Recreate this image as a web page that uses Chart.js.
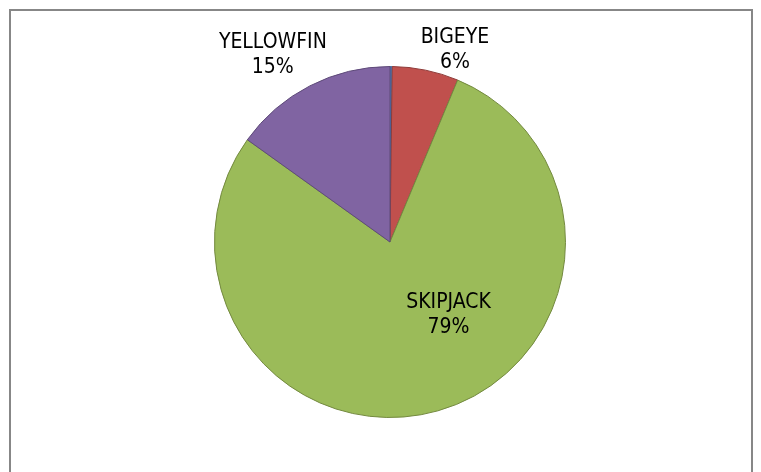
<!DOCTYPE html>
<html>
<head>
<meta charset="utf-8">
<script src="https://cdn.jsdelivr.net/npm/chart.js@4/dist/chart.umd.min.js"></script>
<style>
  html, body { margin: 0; padding: 0; background: #fff; }
  #wrap { position: relative; width: 761px; height: 472px; }
</style>
</head>
<body>
<div id="wrap"><canvas id="c" width="761" height="472"></canvas></div>
<script>
// catch share by species (first one is a hairline slice with no label)
const species = ['ALBACORE', 'BIGEYE', 'SKIPJACK', 'YELLOWFIN'];
const share = [0.2, 6.1, 78.6, 15.1];
const showLabel = [false, true, true, true];

const fills = ['#4F81BD', '#C0504D', '#9BBB59', '#8064A2'];
const edges = ['#2F6FA8', '#8E3B39', '#73893F', '#5E4A79'];

// where each label sits: angle from 12 o'clock (deg, clockwise), distance as fraction of radius
const labelPolar = [null, [18.6, 1.16], [141, 0.53], [-32, 1.26]];

const total = share.reduce((a, b) => a + b, 0);

const frame = {
  id: 'frame',
  beforeDraw(chart) {
    const ctx = chart.ctx;
    ctx.save();
    ctx.strokeStyle = '#878787';
    ctx.lineWidth = 2;
    ctx.strokeRect(10, 10, 742, 480);
    ctx.restore();
  }
};

const sliceLabels = {
  id: 'sliceLabels',
  afterDatasetsDraw(chart) {
    const ctx = chart.ctx;
    const arcs = chart.getDatasetMeta(0).data;
    ctx.save();
    ctx.font = '21px "Liberation Sans Narrow", "DejaVu Sans Condensed", sans-serif';
    ctx.fillStyle = '#000';
    ctx.textAlign = 'center';
    ctx.textBaseline = 'middle';
    arcs.forEach((arc, i) => {
      if (!showLabel[i]) return;
      const [deg, f] = labelPolar[i];
      const a = (deg - 90) * Math.PI / 180;
      const x = arc.x + Math.cos(a) * arc.outerRadius * f;
      const y = arc.y + Math.sin(a) * arc.outerRadius * f;
      const pct = Math.round(share[i] / total * 100) + '%';
      ctx.fillText(species[i], x, y - 12);
      ctx.fillText(pct, x, y + 13);
    });
    ctx.restore();
  }
};

new Chart(document.getElementById('c'), {
  type: 'pie',
  data: {
    labels: species,
    datasets: [{
      data: share,
      backgroundColor: fills,
      borderColor: edges,
      borderWidth: 1
    }]
  },
  options: {
    responsive: false,
    animation: false,
    layout: { padding: { top: 66, bottom: 54, left: 214, right: 195 } },
    plugins: {
      legend: { display: false },
      tooltip: { enabled: false }
    }
  },
  plugins: [frame, sliceLabels]
});
</script>
</body>
</html>
